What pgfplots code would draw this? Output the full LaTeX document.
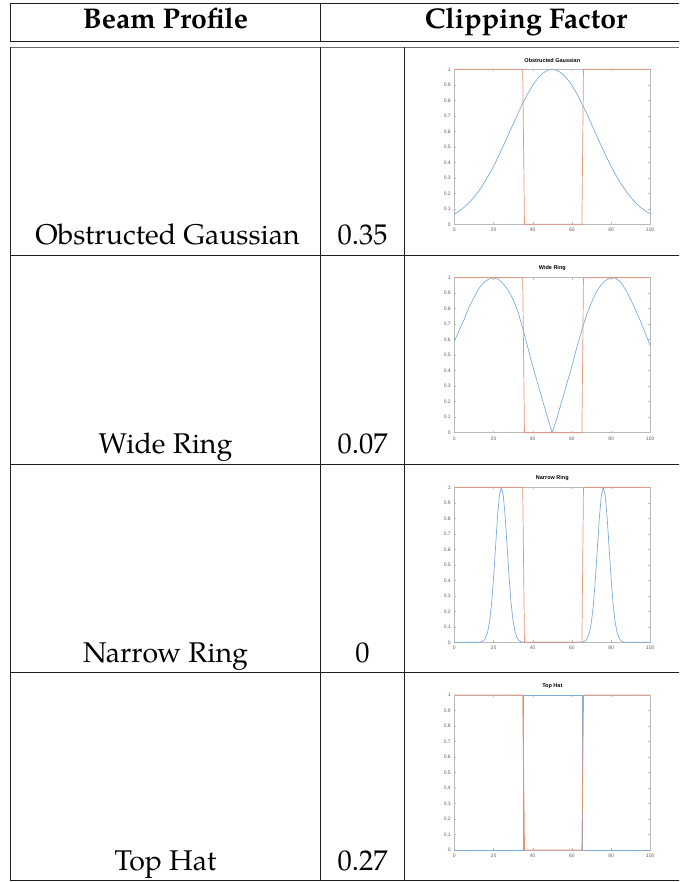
\documentclass[border=0pt]{standalone}
\usepackage{fontspec}
\setmainfont{TeX Gyre Pagella}
\newfontfamily\plotfont{Liberation Sans}
\usepackage{pgfplots}
\pgfplotsset{compat=1.18}

\definecolor{mblue}{RGB}{125,172,218}
\definecolor{morange}{RGB}{238,145,118}
\definecolor{axgray}{RGB}{185,185,185}
\definecolor{ticklab}{RGB}{95,95,95}
\definecolor{rulegray}{RGB}{110,110,110}
\definecolor{ruledark}{RGB}{30,30,30}

\pgfplotsset{beamplot/.style={
  scale only axis, width=196pt, height=155pt,
  xmin=0, xmax=100, ymin=0, ymax=1,
  xtick={0,20,40,60,80,100},
  ytick={0,0.1,0.2,0.3,0.4,0.5,0.6,0.7,0.8,0.9,1},
  tick pos=both, tick align=inside, major tick length=2pt,
  axis line style={axgray, line width=0.5pt},
  every tick/.style={axgray, line width=0.4pt},
  ticklabel style={font=\plotfont\fontsize{5}{6}\selectfont, text=ticklab},
  xticklabel style={yshift=-0.5pt},
  /pgf/number format/assume math mode=true,
  title style={font=\plotfont\bfseries\fontsize{5.5}{6.5}\selectfont, at={(0.5,1)}, anchor=south, inner sep=0.6pt},
  clip=false,
  every axis plot/.append style={line width=0.7pt, line join=round},
}}

\begin{document}
\begin{tikzpicture}[x=1pt,y=1pt]
\useasboundingbox (0,0) rectangle (679,882);
\clip (0,0) rectangle (679,882);

% header rules
\draw[ruledark, line width=1pt] (10,878) -- (700,878);
\draw[ruledark, line width=1pt] (10,840.3) -- (700,840.3);
\draw[ruledark, line width=0.8pt] (10,878) -- (10,840.3);
\draw[ruledark, line width=0.8pt] (320.5,878) -- (320.5,840.3);
% body rules
\draw[rulegray, line width=1.8pt] (10,834.5) -- (700,834.5);
\draw[ruledark, line width=1pt] (10,626) -- (700,626);
\draw[ruledark, line width=1pt] (10,417.5) -- (700,417.5);
\draw[ruledark, line width=1pt] (10,209) -- (700,209);
\draw[ruledark, line width=1pt] (10,1.5) -- (700,1.5);
\draw[ruledark, line width=0.8pt] (10,834.5) -- (10,1.5);
\draw[ruledark, line width=0.8pt] (320.5,834.5) -- (320.5,1.5);
\draw[ruledark, line width=0.8pt] (404.7,834.5) -- (404.7,1.5);

\begingroup\fontsize{28.5}{34}\selectfont
\node[anchor=base, inner sep=0] at (165.5,853) {\bfseries Beam Profile};
\node[anchor=base, inner sep=0] at (526,853) {\bfseries Clipping Factor};
\node[anchor=base, inner sep=0] at (167.5,637) {Obstructed Gaussian};
\node[anchor=base, inner sep=0] at (362.6,637) {0.35};
\node[anchor=base, inner sep=0] at (165.5,428) {Wide Ring};
\node[anchor=base, inner sep=0] at (362.6,428) {0.07};
\node[anchor=base, inner sep=0] at (165.5,219) {Narrow Ring};
\node[anchor=base, inner sep=0] at (362.6,219) {0};
\node[anchor=base, inner sep=0] at (165.5,11) {Top Hat};
\node[anchor=base, inner sep=0] at (362.6,11) {0.27};
\endgroup

% Plot 1
\begin{axis}[beamplot, at={(454.3pt,657.7pt)}, anchor=south west, title={Obstructed Gaussian}]
\addplot[mblue] coordinates {(0,0.065)(2.5,0.085)(5,0.110)(7.5,0.139)(10,0.174)(12.5,0.215)(15,0.263)(17.5,0.316)(20,0.374)(22.5,0.438)(25,0.505)(27.5,0.575)(30,0.646)(32.5,0.716)(35,0.782)(37.5,0.843)(40,0.897)(42.5,0.940)(45,0.973)(47.5,0.993)(50,1)(52.5,0.993)(55,0.973)(57.5,0.940)(60,0.897)(62.5,0.843)(65,0.782)(67.5,0.716)(70,0.646)(72.5,0.575)(75,0.505)(77.5,0.438)(80,0.374)(82.5,0.316)(85,0.263)(87.5,0.215)(90,0.174)(92.5,0.139)(95,0.110)(97.5,0.085)(100,0.068)};
\addplot[morange] coordinates {(0,1)(34.9,1)(35.8,0)(65.1,0)(65.9,1)(100,1)};
\end{axis}

% Plot 2
\begin{axis}[beamplot, at={(454.3pt,449.3pt)}, anchor=south west, title={Wide Ring}]
\addplot[mblue] coordinates {(0,0.59)(2.5,0.66)(5,0.73)(7.5,0.81)(10,0.87)(12.5,0.93)(15,0.97)(17.5,0.99)(20,1.0)(22.5,0.99)(25,0.96)(27.5,0.92)(30,0.86)(32.5,0.78)(35,0.67)(37.5,0.55)(40,0.43)(42.5,0.32)(45,0.21)(47.5,0.10)(50,0.0)(52.5,0.10)(55,0.21)(57.5,0.32)(60,0.43)(62.5,0.55)(65,0.66)(67.5,0.76)(70,0.84)(72.5,0.91)(75,0.955)(77.5,0.985)(80,1.0)(82.5,0.995)(85,0.97)(87.5,0.92)(90,0.86)(92.5,0.79)(95,0.72)(97.5,0.64)(100,0.56)};
\addplot[morange] coordinates {(0,1)(34.9,1)(35.8,0)(65.1,0)(65.9,1)(100,1)};
\end{axis}

% Plot 3
\begin{axis}[beamplot, at={(454.3pt,239.7pt)}, anchor=south west, title={Narrow Ring}]
\addplot[mblue] coordinates {(0,0)(11,0)(12,0.0003)(13,0.001)(14,0.004)(15,0.011)(16,0.029)(17,0.066)(18,0.135)(19,0.249)(20,0.411)(21,0.607)(22,0.801)(23,0.946)(24,1)(25,0.946)(26,0.801)(27,0.607)(28,0.411)(29,0.249)(30,0.135)(31,0.066)(32,0.029)(33,0.011)(34,0.004)(35,0.001)(36,0.0003)(37,0)(63,0)(64,0.0003)(65,0.001)(66,0.004)(67,0.011)(68,0.029)(69,0.066)(70,0.135)(71,0.249)(72,0.411)(73,0.607)(74,0.801)(75,0.946)(76,1)(77,0.946)(78,0.801)(79,0.607)(80,0.411)(81,0.249)(82,0.135)(83,0.066)(84,0.029)(85,0.011)(86,0.004)(87,0.001)(88,0.0003)(89,0)(100,0)};
\addplot[morange] coordinates {(0,1)(34.9,1)(35.8,0)(65.1,0)(65.9,1)(100,1)};
\end{axis}

% Plot 4
\begin{axis}[beamplot, at={(454.3pt,32pt)}, anchor=south west, title={Top Hat}]
\addplot[mblue] coordinates {(0,0)(35.35,0)(35.35,1)(65.5,1)(65.5,0)(100,0)};
\addplot[morange, line width=0.9pt] coordinates {(0,1)(34.9,1)(35.8,0)(65.1,0)(65.9,1)(100,1)};
\end{axis}
\end{tikzpicture}
\end{document}
